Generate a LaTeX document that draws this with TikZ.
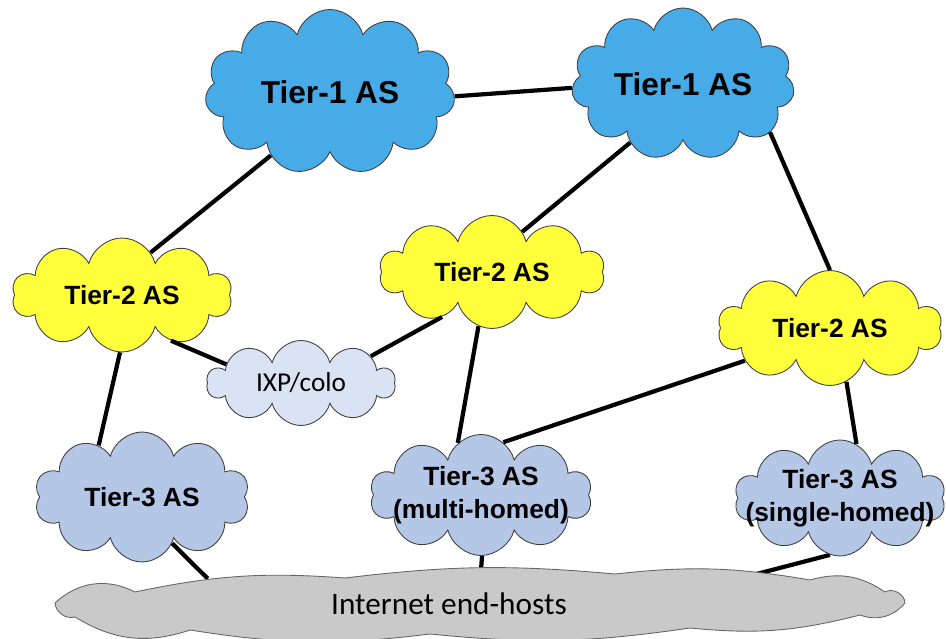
\documentclass[tikz,border=0pt]{standalone}
\usepackage{fontspec}
\setmainfont{Liberation Sans}
\newfontfamily\calibri{Carlito}
\usetikzlibrary{shapes.symbols, backgrounds}
\definecolor{tierOne}{HTML}{47ABE8}
\definecolor{tierTwo}{HTML}{FFFF3C}
\definecolor{tierThree}{HTML}{B4C7E7}
\definecolor{ixpFill}{HTML}{DAE3F3}
\definecolor{hostFill}{HTML}{C9C9C9}

\begin{document}
\begin{tikzpicture}[x=0.2mm, y=-0.2mm,
    as/.style={cloud, draw=black!75, line width=0.5pt, cloud ignores aspect,
        inner sep=0pt, align=center},
    big/.style={font=\bfseries\fontsize{18}{21}\selectfont},
    mid/.style={font=\bfseries\fontsize{15}{19}\selectfont},
    link/.style={line width=2.4pt}]
    \useasboundingbox (0,0) rectangle (946,639);

    \node[as, big, fill=tierOne, cloud puffs=11, minimum width=50mm, minimum height=33mm] (t1l) at (330,92) {Tier-1 AS};
    \node[as, big, fill=tierOne, cloud puffs=11, minimum width=44.6mm, minimum height=30.4mm] (t1r) at (683,84) {Tier-1 AS};

    \node[as, mid, fill=tierTwo, minimum width=44mm, minimum height=22.8mm] (t2l) at (122,295) {Tier-2 AS};
    \node[as, mid, fill=tierTwo, minimum width=45mm, minimum height=22.6mm] (t2m) at (492,272) {Tier-2 AS};
    \node[as, mid, fill=tierTwo, minimum width=44.8mm, minimum height=23mm] (t2r) at (830,328) {Tier-2 AS};

    \node[as, fill=ixpFill, font=\calibri\fontsize{15.5}{18}\selectfont, minimum width=37.6mm, minimum height=17mm] (ixp) at (301,383) {IXP/colo};

    \node[as, mid, fill=tierThree, minimum width=43mm, minimum height=26mm] (t3l) at (142,497) {Tier-3 AS};
    \node[as, mid, fill=tierThree, minimum width=44.4mm, minimum height=24.2mm, inner xsep=-6mm] (t3m) at (481,495) {Tier-3 AS\\(multi-homed)};
    \node[as, mid, fill=tierThree, minimum width=42.2mm, minimum height=23.2mm, inner xsep=-10mm, inner ysep=-2mm] (t3r) at (840,498) {Tier-3 AS\\(single-homed)};

    \node[font=\calibri\fontsize{17.8}{20}\selectfont, minimum width=148mm, minimum height=10mm] (eh) at (449,604) {Internet end-hosts};

    \begin{pgfonlayer}{background}
        \draw[link] (t3l.303) -- (eh.174);
        \draw[link] (t3m.-89) -- (eh.39);
        \draw[link] (t3r.260) -- (eh.5);
        \draw[fill=hostFill, draw=black!60, line width=0.5pt]
            (55,603) to[bend left=35] (135,592) to[bend left=8] (345,578)
            to[bend left=6] (615,574) to[bend left=8] (810,580)
            to[bend left=25] (885,592) to[bend left=60] (905,603)
            to[bend left=35] (860,615) to[bend left=10] (690,628)
            to[bend left=7] (430,634) to[bend left=8] (190,630)
            to[bend left=25] (75,617) to[bend left=50] cycle;
    \end{pgfonlayer}

    \draw[link] (t1l.-2) -- (t1r.182);
    \draw[link] (t1l.227) -- (t2l.56);
    \draw[link] (t1r.228) -- (t2m.53);
    \draw[link] (t1r.-29) -- (t2r.90);
    \draw[link] (t2l.-43) -- (ixp.166);
    \draw[link] (ixp.21) -- (t2m.222);
    \draw[link] (t2l.268) -- (t3l.130);
    \draw[link] (t2m.256) -- (t3m.114);
    \draw[link] (t2r.201) -- (t3m.67);
    \draw[link] (t2r.287) -- (t3r.73);
\end{tikzpicture}
\end{document}
